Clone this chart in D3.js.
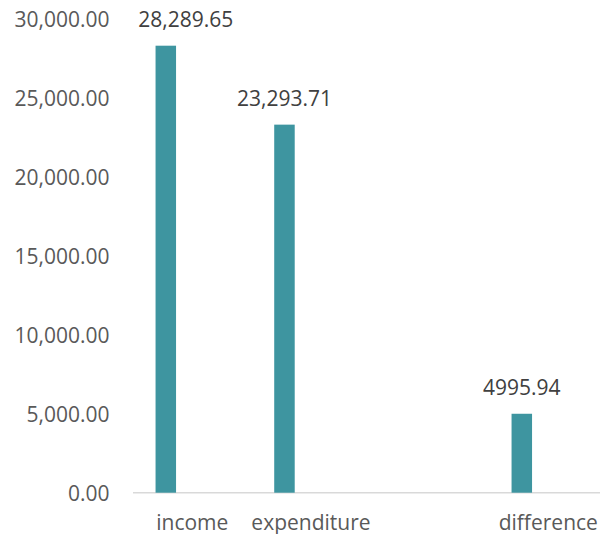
<!DOCTYPE html>
<html>
<head>
<meta charset="utf-8">
<script src="https://cdn.jsdelivr.net/npm/d3@7"></script>
<style>
  html, body { margin: 0; padding: 0; background: #fff; }
  svg { display: block; }
  text { font-family: "Open Sans", "Noto Sans", sans-serif; }
</style>
</head>
<body>
<svg id="chart" width="600" height="534"></svg>
<script>
// ---- data ----
const categories = ["income", "expenditure", "", "difference"];
const values = [28289.65, 23293.71, null, 4995.94];
const valueLabels = ["28,289.65", "23,293.71", "", "4995.94"];
const yTicks = [0, 5000, 10000, 15000, 20000, 25000, 30000];

// ---- layout ----
const W = 600, H = 534;
const y0 = 492.7, perUnit = 447 / 28289.65;
const svg = d3.select("#chart");

const x = d3.scalePoint().domain(categories).range([165.8, 521.8]);
const y = d3.scaleLinear().domain([0, 30000]).range([y0, y0 - 30000 * perUnit]);
const barW = 20.5;
const labelShift = [20, 0, 0, 0];
const catLabelShift = 26.5;
const fs = 21;

// y axis labels
const yAxis = d3.axisLeft(y).tickValues(yTicks).tickSize(0).tickPadding(0)
  .tickFormat(d3.format(",.2f"));
const gy = svg.append("g").attr("transform", "translate(109.5,0)").call(yAxis);
gy.select(".domain").remove();
gy.selectAll("text").attr("font-size", fs).attr("fill", "#595959")
  .attr("font-family", "'Open Sans', sans-serif").attr("dy", "0.35em");

// x axis line
svg.append("line").attr("x1", 133).attr("x2", 600)
  .attr("y1", y(0)).attr("y2", y(0))
  .attr("stroke", "#d9d9d9").attr("stroke-width", 1.5);

// bars
const data = categories.map((c, i) => ({ c, v: values[i], label: valueLabels[i], i }));
svg.selectAll("rect.bar").data(data.filter(d => d.v != null)).enter()
  .append("rect").attr("class", "bar")
  .attr("x", d => x(d.c) - barW / 2)
  .attr("width", barW)
  .attr("y", d => y(d.v))
  .attr("height", d => y(0) - y(d.v))
  .attr("fill", "#3E95A0");

// value labels
svg.selectAll("text.vl").data(data.filter(d => d.v != null)).enter()
  .append("text").attr("class", "vl")
  .attr("x", d => x(d.c) + labelShift[d.i])
  .attr("y", d => y(d.v) - 18.5)
  .attr("text-anchor", "middle")
  .attr("font-size", fs).attr("fill", "#404040")
  .text(d => d.label);

// category labels
svg.selectAll("text.cl").data(data.filter(d => d.c !== "")).enter()
  .append("text").attr("class", "cl")
  .attr("x", d => x(d.c) + catLabelShift)
  .attr("y", 529.5)
  .attr("text-anchor", "middle")
  .attr("font-size", fs).attr("fill", "#595959")
  .text(d => d.c);
</script>
</body>
</html>
